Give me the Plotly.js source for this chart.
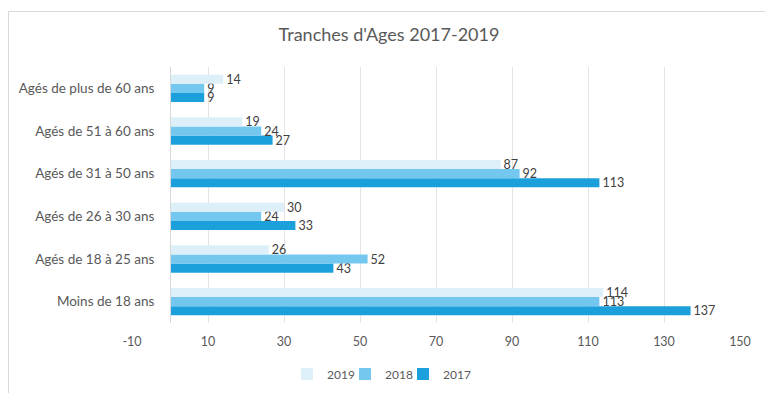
<!DOCTYPE html>
<html>
<head>
<meta charset="utf-8">
<script src="https://cdn.plot.ly/plotly-3.0.1.min.js"></script>
<style>
  html, body { margin: 0; padding: 0; background: #ffffff; }
  #chart { width: 765px; height: 393px; }
</style>
</head>
<body>
<div id="chart"></div>
<script>
// Categories, listed from bottom to top
var categories = [
  "Moins de 18 ans",
  "Agés de 18 à 25 ans",
  "Agés de 26 à 30 ans",
  "Agés de 31 à 50 ans",
  "Agés de 51 à 60 ans",
  "Agés de plus de 60 ans"
];
var values2017 = [137, 43, 33, 113, 27, 9];
var values2018 = [113, 52, 24, 92, 24, 9];
var values2019 = [114, 26, 30, 87, 19, 14];
var tickValues = [-10, 10, 30, 50, 70, 90, 110, 130, 150];
var chartTitle = "Tranches d'Ages 2017-2019";

var fontFam = "Lato, 'Open Sans', sans-serif";
var textCol = "#595959";

function mk(name, vals, color, legendId) {
  return {
    type: "bar",
    orientation: "h",
    name: name,
    y: categories,
    x: vals,
    text: vals.map(String),
    textposition: "outside",
    cliponaxis: false,
    constraintext: "none",
    textfont: { family: fontFam, size: 12.5, color: "#404040" },
    marker: { color: color, line: { width: 0 } },
    legend: legendId,
    hoverinfo: "x+name"
  };
}

var data = [
  mk("2017", values2017, "#1ca0dc", "legend3"),
  mk("2018", values2018, "#74c7ef", "legend2"),
  mk("2019", values2019, "#ddeff9", "legend")
];

var W = 765, H = 393;
var mL = 132, mR = 25, mT = 67, mB = 70;
var pw = W - mL - mR, ph = H - mT - mB;
function px(x) { return (x - mL) / pw; }
function py(y) { return 1 - (y - mT) / ph; }
var xMin = -10, xMax = 150;

function leg(xpix) {
  return {
    orientation: "h",
    x: px(xpix),
    xanchor: "left",
    y: py(374),
    yanchor: "middle",
    font: { family: fontFam, size: 12, color: textCol },
    itemwidth: 30,
    bgcolor: "rgba(0,0,0,0)"
  };
}

var layout = {
  width: W,
  height: H,
  margin: { l: mL, r: mR, t: mT, b: mB, pad: 0, autoexpand: false },
  paper_bgcolor: "#ffffff",
  plot_bgcolor: "#ffffff",
  font: { family: fontFam, size: 12.5, color: textCol },
  title: {
    text: chartTitle,
    font: { family: fontFam, size: 18, color: textCol },
    x: 389 / W,
    xanchor: "center",
    y: 1 - 35 / H,
    yanchor: "middle"
  },
  barmode: "group",
  bargap: 0.36,
  bargroupgap: 0,
  xaxis: {
    range: [xMin, xMax],
    domain: [0, 1],
    automargin: false,
    tickvals: tickValues,
    ticktext: tickValues.map(String),
    showgrid: true,
    gridcolor: "#e4e4e4",
    gridwidth: 1,
    zeroline: false,
    showline: false,
    ticks: "",
    ticklabelstandoff: 9,
    tickfont: { family: fontFam, size: 12.5, color: textCol },
    fixedrange: true
  },
  yaxis: {
    type: "category",
    categoryorder: "array",
    categoryarray: categories,
    anchor: "free",
    automargin: false,
    position: (0 - xMin) / (xMax - xMin),
    showgrid: false,
    zeroline: false,
    showline: true,
    linecolor: "#d9d9d9",
    linewidth: 1,
    ticks: "",
    ticklabelstandoff: 13,
    tickfont: { family: fontFam, size: 13.5, color: textCol },
    fixedrange: true
  },
  showlegend: true,
  legend: leg(287),
  legend2: leg(345),
  legend3: leg(403),
  shapes: [
    {
      type: "rect",
      xref: "paper", yref: "paper",
      x0: px(8.5), x1: px(800), y0: py(11.5), y1: py(450),
      line: { color: "#d9d9d9", width: 1 },
      fillcolor: "rgba(0,0,0,0)",
      layer: "below"
    }
  ]
};

Plotly.newPlot("chart", data, layout, { displayModeBar: false, staticPlot: true });
</script>
</body>
</html>
